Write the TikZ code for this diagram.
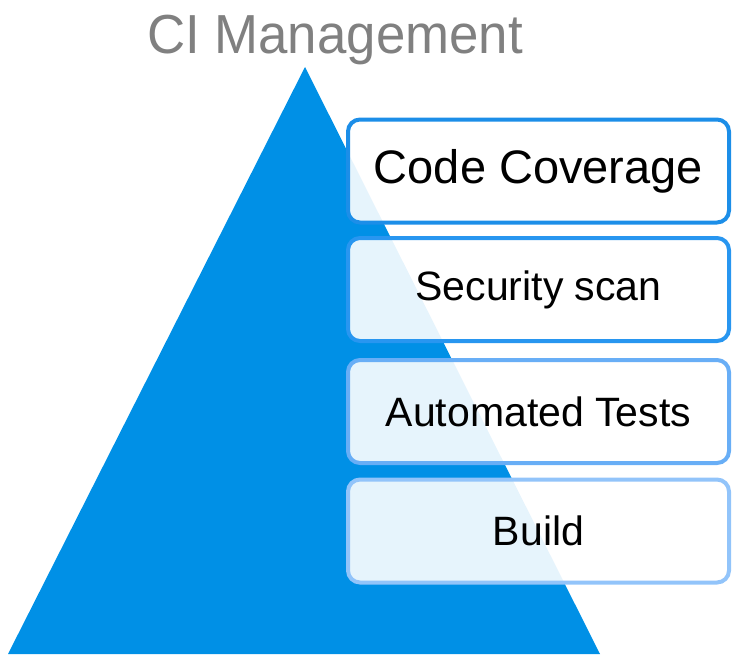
\documentclass[tikz,border=0pt]{standalone}
\usepackage{fontspec}
\setmainfont{Liberation Sans}
\usepackage{xcolor}
\usepackage{tikz}

\definecolor{pyramid}{RGB}{0,144,230}
\definecolor{edgeA}{RGB}{28,142,232}
\definecolor{edgeB}{RGB}{40,150,240}
\definecolor{edgeC}{RGB}{104,174,246}
\definecolor{edgeD}{RGB}{146,196,250}

\begin{document}
\begin{tikzpicture}[x=1pt, y=-1pt,
  stage/.style={draw, rounded corners=12pt, line width=4pt, fill=white,
    fill opacity=0.9, text opacity=1, minimum width=381pt,
    minimum height=103pt, inner sep=0pt, font=\fontsize{41}{48}\selectfont}]
  \useasboundingbox (0,0) rectangle (733,654);
  % the pyramid behind the stages
  \fill[pyramid] (305,67) -- (600,654) -- (8,654) -- cycle;
  \node[anchor=base, inner sep=0pt, text=black!50] (title) at (335,53)
    {\fontsize{55}{62}\selectfont\scalebox{0.96}[1]{CI Management}};
  \node[stage, draw=edgeA, font=\fontsize{47}{56}\selectfont] (cov) at (538.5,171) {Code Coverage};
  \node[stage, draw=edgeB] (sec) at (538.5,289.5) {Security scan};
  \node[stage, draw=edgeC] (tests) at (538.5,411.5) {Automated Tests};
  \node[stage, draw=edgeD] (build) at (538.5,531) {Build};
\end{tikzpicture}
\end{document}
